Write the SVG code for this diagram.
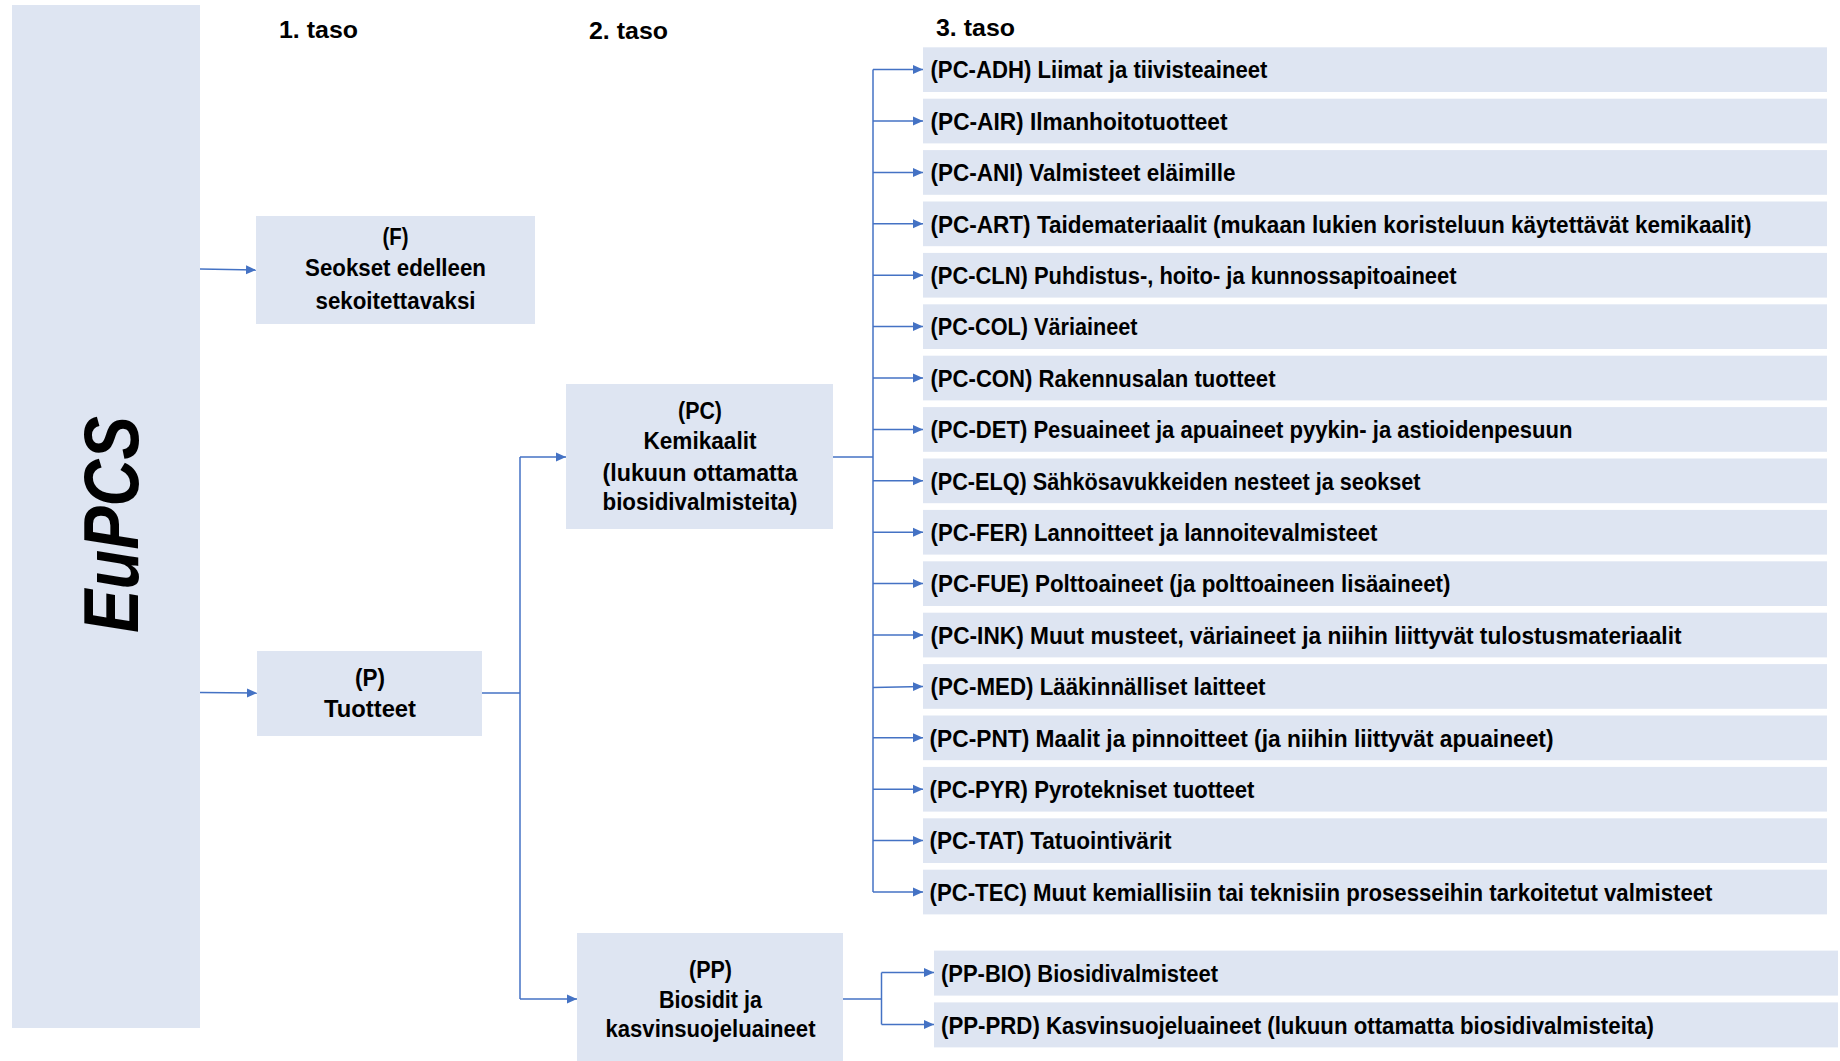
<svg xmlns="http://www.w3.org/2000/svg" width="1840" height="1061" viewBox="0 0 1840 1061">
<defs>
<style>
.box{fill:#DEE5F2;}
.t{font-family:"Liberation Sans",Arial,sans-serif;font-weight:bold;fill:#000;}
.c{font-size:23px;text-anchor:middle;}
.h{font-size:24px;}
.r{font-size:23px;}
.ln{fill:none;stroke:#4472C4;stroke-width:1.5;}
.ar{fill:none;stroke:#4472C4;stroke-width:1.5;marker-end:url(#ah);}
</style>
<marker id="ah" markerUnits="userSpaceOnUse" markerWidth="10" markerHeight="10" refX="10" refY="5" orient="auto">
<path d="M0,0.5 L10,5 L0,9.5 z" fill="#4472C4"/>
</marker>
</defs>
<rect width="1840" height="1061" fill="#fff"/>

<g id="headers">
<text class="t h" x="279" y="38" textLength="79" lengthAdjust="spacingAndGlyphs">1. taso</text>
<text class="t h" x="589" y="39" textLength="79" lengthAdjust="spacingAndGlyphs">2. taso</text>
<text class="t h" x="936" y="36" textLength="79" lengthAdjust="spacingAndGlyphs">3. taso</text>
</g>

<g id="EuPCS">
<rect class="box" x="12" y="5" width="188" height="1023"/>
<text class="t" transform="translate(138,524.5) rotate(-90)" x="0" y="0" font-size="78" font-style="italic" text-anchor="middle" textLength="217" lengthAdjust="spacingAndGlyphs">EuPCS</text>
</g>

<g id="F">
<rect class="box" x="256" y="216" width="279" height="108"/>
<text class="t c" x="395.5" y="245" textLength="26" lengthAdjust="spacingAndGlyphs">(F)</text>
<text class="t c" x="395.5" y="276" textLength="181" lengthAdjust="spacingAndGlyphs">Seokset edelleen</text>
<text class="t c" x="395.5" y="309" textLength="160" lengthAdjust="spacingAndGlyphs">sekoitettavaksi</text>
</g>

<g id="P">
<rect class="box" x="257" y="651" width="225" height="85"/>
<text class="t c" x="370" y="686" textLength="30" lengthAdjust="spacingAndGlyphs">(P)</text>
<text class="t c" x="370" y="717" textLength="92" lengthAdjust="spacingAndGlyphs">Tuotteet</text>
</g>

<g id="PC">
<rect class="box" x="566" y="384" width="267" height="145"/>
<text class="t c" x="700" y="419" textLength="44" lengthAdjust="spacingAndGlyphs">(PC)</text>
<text class="t c" x="700" y="449" textLength="113" lengthAdjust="spacingAndGlyphs">Kemikaalit</text>
<text class="t c" x="700" y="481" textLength="195" lengthAdjust="spacingAndGlyphs">(lukuun ottamatta</text>
<text class="t c" x="700" y="510" textLength="195" lengthAdjust="spacingAndGlyphs">biosidivalmisteita)</text>
</g>

<g id="PP">
<rect class="box" x="577" y="933" width="266" height="128"/>
<text class="t c" x="710.5" y="978" textLength="43" lengthAdjust="spacingAndGlyphs">(PP)</text>
<text class="t c" x="710.5" y="1008" textLength="103" lengthAdjust="spacingAndGlyphs">Biosidit ja</text>
<text class="t c" x="710.5" y="1037" textLength="210" lengthAdjust="spacingAndGlyphs">kasvinsuojeluaineet</text>
</g>

<g id="PC-ADH"><rect class="box" x="923" y="47.3" width="904" height="44.7"/><text class="t r" x="930.5" y="78.3" textLength="337" lengthAdjust="spacingAndGlyphs">(PC-ADH) Liimat ja tiivisteaineet</text></g>
<g id="PC-AIR"><rect class="box" x="923" y="98.7" width="904" height="44.7"/><text class="t r" x="930.5" y="129.7" textLength="297" lengthAdjust="spacingAndGlyphs">(PC-AIR) Ilmanhoitotuotteet</text></g>
<g id="PC-ANI"><rect class="box" x="923" y="150.1" width="904" height="44.7"/><text class="t r" x="930.5" y="181.1" textLength="305" lengthAdjust="spacingAndGlyphs">(PC-ANI) Valmisteet eläimille</text></g>
<g id="PC-ART"><rect class="box" x="923" y="201.5" width="904" height="44.7"/><text class="t r" x="930.5" y="232.5" textLength="821" lengthAdjust="spacingAndGlyphs">(PC-ART) Taidemateriaalit (mukaan lukien koristeluun käytettävät kemikaalit)</text></g>
<g id="PC-CLN"><rect class="box" x="923" y="252.9" width="904" height="44.7"/><text class="t r" x="930.5" y="283.9" textLength="526" lengthAdjust="spacingAndGlyphs">(PC-CLN) Puhdistus-, hoito- ja kunnossapitoaineet</text></g>
<g id="PC-COL"><rect class="box" x="923" y="304.3" width="904" height="44.7"/><text class="t r" x="930.5" y="335.3" textLength="207" lengthAdjust="spacingAndGlyphs">(PC-COL) Väriaineet</text></g>
<g id="PC-CON"><rect class="box" x="923" y="355.7" width="904" height="44.7"/><text class="t r" x="930.5" y="386.7" textLength="345" lengthAdjust="spacingAndGlyphs">(PC-CON) Rakennusalan tuotteet</text></g>
<g id="PC-DET"><rect class="box" x="923" y="407.1" width="904" height="44.7"/><text class="t r" x="930.5" y="438.1" textLength="642" lengthAdjust="spacingAndGlyphs">(PC-DET) Pesuaineet ja apuaineet pyykin- ja astioidenpesuun</text></g>
<g id="PC-ELQ"><rect class="box" x="923" y="458.5" width="904" height="44.7"/><text class="t r" x="930.5" y="489.5" textLength="490" lengthAdjust="spacingAndGlyphs">(PC-ELQ) Sähkösavukkeiden nesteet ja seokset</text></g>
<g id="PC-FER"><rect class="box" x="923" y="509.9" width="904" height="44.7"/><text class="t r" x="930.5" y="540.9" textLength="447" lengthAdjust="spacingAndGlyphs">(PC-FER) Lannoitteet ja lannoitevalmisteet</text></g>
<g id="PC-FUE"><rect class="box" x="923" y="561.3" width="904" height="44.7"/><text class="t r" x="930.5" y="592.3" textLength="520" lengthAdjust="spacingAndGlyphs">(PC-FUE) Polttoaineet (ja polttoaineen lisäaineet)</text></g>
<g id="PC-INK"><rect class="box" x="923" y="612.7" width="904" height="44.7"/><text class="t r" x="930.5" y="643.7" textLength="751" lengthAdjust="spacingAndGlyphs">(PC-INK) Muut musteet, väriaineet ja niihin liittyvät tulostusmateriaalit</text></g>
<g id="PC-MED"><rect class="box" x="923" y="664.1" width="904" height="44.7"/><text class="t r" x="930.5" y="695.1" textLength="335" lengthAdjust="spacingAndGlyphs">(PC-MED) Lääkinnälliset laitteet</text></g>
<g id="PC-PNT"><rect class="box" x="923" y="715.5" width="904" height="44.7"/><text class="t r" x="929.5" y="746.5" textLength="624" lengthAdjust="spacingAndGlyphs">(PC-PNT) Maalit ja pinnoitteet (ja niihin liittyvät apuaineet)</text></g>
<g id="PC-PYR"><rect class="box" x="923" y="766.9" width="904" height="44.7"/><text class="t r" x="929.5" y="797.9" textLength="325" lengthAdjust="spacingAndGlyphs">(PC-PYR) Pyrotekniset tuotteet</text></g>
<g id="PC-TAT"><rect class="box" x="923" y="818.3" width="904" height="44.7"/><text class="t r" x="929.5" y="849.3" textLength="242" lengthAdjust="spacingAndGlyphs">(PC-TAT) Tatuointivärit</text></g>
<g id="PC-TEC"><rect class="box" x="923" y="869.7" width="904" height="44.7"/><text class="t r" x="929.5" y="900.7" textLength="783" lengthAdjust="spacingAndGlyphs">(PC-TEC) Muut kemiallisiin tai teknisiin prosesseihin tarkoitetut valmisteet</text></g>

<g id="PP-BIO"><rect class="box" x="934" y="950.6" width="904" height="45"/><text class="t r" x="941" y="982" textLength="277" lengthAdjust="spacingAndGlyphs">(PP-BIO) Biosidivalmisteet</text></g>
<g id="PP-PRD"><rect class="box" x="934" y="1002.4" width="904" height="45"/><text class="t r" x="941" y="1033.6" textLength="713" lengthAdjust="spacingAndGlyphs">(PP-PRD) Kasvinsuojeluaineet (lukuun ottamatta biosidivalmisteita)</text></g>

<g id="connectors">
<path class="ar" d="M200,269 L256,270"/>
<path class="ar" d="M200,692.5 L257,693"/>
<path class="ln" d="M482,693 H520"/>
<path class="ln" d="M520,457 V999"/>
<path class="ar" d="M520,457 H566"/>
<path class="ar" d="M520,999 H577"/>
<path class="ln" d="M833,457 H873"/>
<path class="ln" d="M873,69.6 V892"/>
<path class="ar" d="M873,69.6 H923"/>
<path class="ar" d="M873,121 H923"/>
<path class="ar" d="M873,172.4 H923"/>
<path class="ar" d="M873,223.8 H923"/>
<path class="ar" d="M873,275.2 H923"/>
<path class="ar" d="M873,326.6 H923"/>
<path class="ar" d="M873,378 H923"/>
<path class="ar" d="M873,429.4 H923"/>
<path class="ar" d="M873,480.8 H923"/>
<path class="ar" d="M873,532.2 H923"/>
<path class="ar" d="M873,583.6 H923"/>
<path class="ar" d="M873,635 H923"/>
<path class="ar" d="M873,687.5 L923,686.4"/>
<path class="ar" d="M873,737.8 H923"/>
<path class="ar" d="M873,789.2 H923"/>
<path class="ar" d="M873,840.6 H923"/>
<path class="ar" d="M873,892 H923"/>
<path class="ln" d="M843,999 H881.5"/>
<path class="ln" d="M881.5,972.6 V1024.4"/>
<path class="ar" d="M881.5,972.6 H934"/>
<path class="ar" d="M881.5,1024.4 H934"/>
</g>
</svg>
